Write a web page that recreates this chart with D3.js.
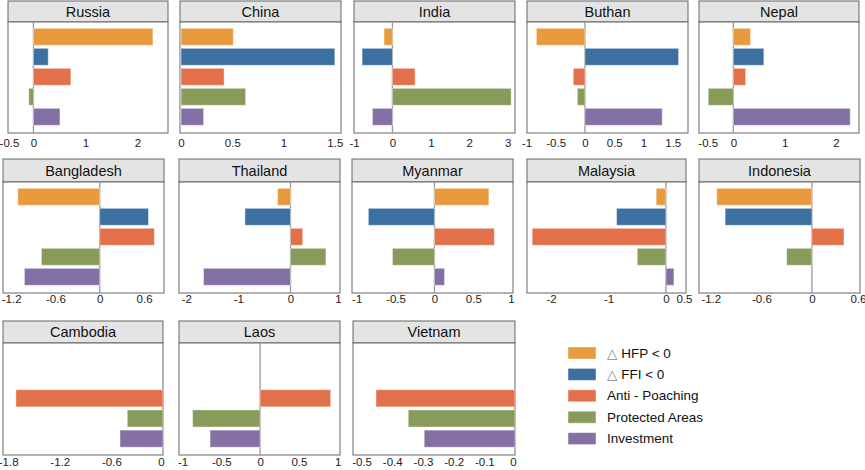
<!DOCTYPE html>
<html>
<head>
<meta charset="utf-8">
<script src="https://cdn.jsdelivr.net/npm/d3@7"></script>
<style>
  body { margin: 0; background: #fff; }
  text { font-family: "Liberation Sans", Arial, sans-serif; }
</style>
</head>
<body>
<svg id="chart" width="865" height="470"></svg>
<script>
const countries = ["Russia", "China", "India", "Buthan", "Nepal",
  "Bangladesh", "Thailand", "Myanmar", "Malaysia", "Indonesia",
  "Cambodia", "Laos", "Vietnam"];

const seriesNames = ["HFP < 0", "FFI < 0", "Anti - Poaching", "Protected Areas", "Investment"];

const hfp            = [2.30, 0.51, -0.22, -0.83, 0.335, -1.11, -0.25, 0.70, -0.17, -1.13, null, null, null];
const ffi            = [0.285, 1.50, -0.79, 1.60, 0.595, 0.66, -0.875, -0.85, -0.86, -1.03, null, null, null];
const antiPoaching   = [0.72, 0.42, 0.59, -0.20, 0.24, 0.74, 0.235, 0.77, -2.33, 0.38, -1.71, 0.91, -0.453];
const protectedAreas = [-0.09, 0.63, 3.09, -0.13, -0.49, -0.79, 0.68, -0.54, -0.50, -0.30, -0.415, -0.87, -0.348];
const investment     = [0.51, 0.22, -0.52, 1.32, 2.28, -1.02, -1.67, 0.13, 0.14, null, -0.50, -0.645, -0.296];

const xDomains = [[-0.49, 2.59], [-0.01, 1.56], [-1.0, 3.19], [-0.99, 1.76], [-0.67, 2.45],
  [-1.31, 0.87], [-2.14, 0.95], [-1.06, 1.01], [-2.42, 0.35], [-1.34, 0.57],
  [-1.86, 0], [-1.045, 1.03], [-0.528, 0]];

const xTicks = [[-0.5, 0, 1, 2], [0, 0.5, 1, 1.5], [-1, 0, 1, 2, 3], [-1, -0.5, 0, 0.5, 1, 1.5], [-0.5, 0, 1, 2],
  [-1.2, -0.6, 0, 0.6], [-2, -1, 0, 1], [-1, -0.5, 0, 0.5, 1], [-2, -1, 0, 0.5], [-1.2, -0.6, 0, 0.6],
  [-1.8, -1.2, -0.6, 0], [-1, -0.5, 0, 0.5, 1], [-0.5, -0.4, -0.3, -0.2, -0.1, 0]];

const colors = ["#ea9a3e", "#3b70a0", "#e2704b", "#889b5a", "#8470a5"];

// layout of the panels (pixel geometry)
const rows = [
  { top: 1, head: 22, bottom: 133, lab: 14 },
  { top: 159, head: 182, bottom: 293, lab: 10 },
  { top: 321, head: 343, bottom: 455, lab: 11 }
];
const panelX = [[8, 168], [180, 341], [354, 515], [527, 688], [699, 859],
  [3, 164], [179, 340], [352, 513], [527, 686], [699, 860],
  [3, 163], [179, 340], [353, 515]];
const panelRow = [0, 0, 0, 0, 0, 1, 1, 1, 1, 1, 2, 2, 2];

const allSeries = [hfp, ffi, antiPoaching, protectedAreas, investment];
const svg = d3.select("#chart");

countries.forEach((name, i) => {
  const r = rows[panelRow[i]];
  const [x0, x1] = panelX[i];
  const g = svg.append("g");

  const x = d3.scaleLinear().domain(xDomains[i]).range([x0, x1]);
  const y = d3.scaleBand().domain(d3.range(5)).range([r.head, r.bottom])
    .paddingInner(0.15).paddingOuter(0.35).align(0.45);

  // header strip
  g.append("rect")
    .attr("x", x0).attr("y", r.top)
    .attr("width", x1 - x0).attr("height", r.head - r.top)
    .attr("fill", "#e4e4e4").attr("stroke", "#666").attr("stroke-width", 1);
  g.append("text")
    .attr("x", (x0 + x1) / 2).attr("y", (r.top + r.head) / 2 + 5)
    .attr("text-anchor", "middle").attr("font-size", 14.5).attr("fill", "#111")
    .text(name);

  // plot box
  g.append("rect")
    .attr("x", x0).attr("y", r.head)
    .attr("width", x1 - x0).attr("height", r.bottom - r.head)
    .attr("fill", "#fff").attr("stroke", "#666").attr("stroke-width", 1);

  const d = xDomains[i];
  if (d[0] < -0.05 && d[1] > 0.05) {
    g.append("line")
      .attr("x1", x(0)).attr("x2", x(0))
      .attr("y1", r.head).attr("y2", r.bottom)
      .attr("stroke", "#999").attr("stroke-width", 1.3);
  }

  const vals = allSeries.map((s, k) => ({ k, v: s[i] })).filter(e => e.v !== null);
  g.selectAll("rect.bar")
    .data(vals)
    .enter()
    .append("rect")
    .attr("class", "bar")
    .attr("x", e => x(Math.min(0, e.v)))
    .attr("width", e => Math.abs(x(e.v) - x(0)))
    .attr("y", e => y(e.k))
    .attr("height", y.bandwidth())
    .attr("fill", e => colors[e.k])
    .attr("stroke", "#fff").attr("stroke-opacity", 0.45).attr("stroke-width", 1);

  const axis = g.append("g")
    .attr("transform", `translate(0,${r.bottom + r.lab - 11})`)
    .call(d3.axisBottom(x).tickValues(xTicks[i]).tickSize(0).tickFormat(v => String(v)));
  axis.select(".domain").remove();
  axis.selectAll("text")
    .attr("font-size", 11.5).attr("fill", "#222")
    .style("font-family", "'Liberation Sans', Arial, sans-serif");

  // keep end labels from running past the panel's right edge
  axis.selectAll(".tick").each(function (v) {
    const px = x(v);
    if (px > x1 - 2) {
      d3.select(this).select("text").attr("x", (x1 - 2) - px);
    }
    if (px < 8) {
      d3.select(this).select("text").attr("x", 9 - px);
    }
  });
});

// legend
const legend = svg.append("g").attr("transform", "translate(568,347)");
seriesNames.forEach((s, k) => {
  const row = legend.append("g").attr("transform", `translate(0,${k * 21.4})`);
  row.append("rect")
    .attr("width", 28).attr("height", 12)
    .attr("fill", colors[k])
    .attr("stroke", "#fff").attr("stroke-opacity", 0.45);
  const t = row.append("text")
    .attr("x", 39).attr("y", 10.5)
    .attr("font-size", 13.5).attr("fill", "#111");
  if (k < 2) {
    t.append("tspan").attr("fill", "#888").style("font-family", "'DejaVu Sans', sans-serif").text("\u25B3");
    t.append("tspan").text(" " + s);
  } else {
    t.text(s);
  }
});
</script>
</body>
</html>
